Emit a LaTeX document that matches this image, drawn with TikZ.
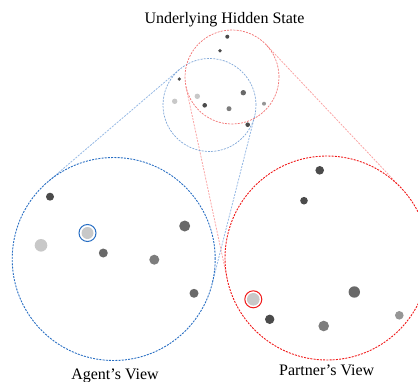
\documentclass[tikz,border=0pt]{standalone}
\usepackage{fontspec}
\setmainfont{Liberation Serif}
\definecolor{bluebig}{RGB}{40,110,195}
\definecolor{bluesmall}{RGB}{125,165,215}
\definecolor{bluetan}{RGB}{150,185,228}
\definecolor{redbig}{RGB}{240,25,25}
\definecolor{redsmall}{RGB}{242,115,115}
\definecolor{redtan}{RGB}{250,165,165}
\definecolor{gA}{RGB}{75,75,75}
\definecolor{gB}{RGB}{105,105,105}
\definecolor{gC}{RGB}{125,125,125}
\definecolor{gD}{RGB}{150,150,150}
\definecolor{gE}{RGB}{200,200,200}
\tikzset{
  view/.style={circle, draw, inner sep=0pt, dash pattern=on 2pt off 1.2pt, line width=0.9pt},
  tanline/.style={dash pattern=on 2pt off 1.2pt, line width=0.8pt},
  dot/.style={circle, fill=#1, inner sep=0pt},
  ring/.style={circle, draw=#1, line width=1pt, inner sep=0pt, minimum size=17pt},
  lbl/.style={font=\fontsize{16}{19}\selectfont, inner sep=0pt, anchor=base}
}
\begin{document}
\begin{tikzpicture}[x=1pt,y=-1pt]
\useasboundingbox (0,0) rectangle (418,381);
% tangent points
\coordinate (bt1) at (179.3,69.6);
\coordinate (bB1) at (47.8,181.8);
\coordinate (bt2) at (254.6,116.4);
\coordinate (bB2) at (212.1,284.0);
\coordinate (rt1) at (186.0,86.8);
\coordinate (rB1) at (227.3,279.3);
\coordinate (rt2) at (266.2,44.8);
\coordinate (rB2) at (401.2,188.0);
\draw[tanline, bluetan] (bt1) -- (bB1);
\draw[tanline, bluetan] (bt2) -- (bB2);
\draw[tanline, redtan] (rt1) -- (rB1);
\draw[tanline, redtan] (rt2) -- (rB2);
% circles
\node[view, draw=bluesmall, line width=0.7pt, minimum size=93pt] (hb) at (209.5,105) {};
\node[view, draw=redsmall, line width=0.7pt, minimum size=94pt] (hr) at (232,77) {};
\node[view, draw=bluebig, minimum size=203pt] (agent) at (113.7,259) {};
\node[view, draw=redbig, minimum size=204pt] (partner) at (327,258) {};
% labels
\node[lbl] (title) at (224.5,23.3) {Underlying Hidden State};
\node[lbl] (al) at (115,379) {Agent’s View};
\node[lbl] (pl) at (326.7,375.5) {Partner’s View};
% hidden state dots
\node[dot=gA, minimum size=4pt] (h1) at (227.3,36.7) {};
\node[dot=gA, minimum size=3.6pt] (h2) at (220,50.7) {};
\node[dot=gA, minimum size=3.6pt] (h3) at (179.3,79) {};
\node[dot=gB, minimum size=5.4pt] (h4) at (243.3,92.7) {};
\node[dot=gE, minimum size=5.4pt] (h5) at (197.3,96.3) {};
\node[dot=gE, minimum size=5.4pt] (h6) at (174.7,101.3) {};
\node[dot=gA, minimum size=4.6pt] (h7) at (204.7,105.3) {};
\node[dot=gC, minimum size=5pt] (h8) at (229,108.7) {};
\node[dot=gD, minimum size=4pt] (h9) at (264,103.7) {};
\node[dot=gA, minimum size=4.6pt] (h10) at (247.7,124.7) {};
% agent dots
\node[dot=gA, minimum size=8pt] (a1) at (50,196.7) {};
\node[dot=gE, minimum size=12pt] (a2) at (87.5,233) {};
\node[ring=bluebig] (a2r) at (a2) {};
\node[dot=gE, minimum size=12.6pt] (a3) at (41,245.3) {};
\node[dot=gB, minimum size=9pt] (a4) at (103.3,253) {};
\node[dot=gB, minimum size=11pt] (a5) at (184.7,226) {};
\node[dot=gC, minimum size=10pt] (a6) at (154.3,259.7) {};
\node[dot=gB, minimum size=9pt] (a7) at (194,293.3) {};
% partner dots
\node[dot=gA, minimum size=8.6pt] (p1) at (319.7,170.3) {};
\node[dot=gA, minimum size=7.6pt] (p2) at (304,200.7) {};
\node[dot=gE, minimum size=12.6pt] (p3) at (253.3,299.3) {};
\node[ring=redbig] (p3r) at (p3) {};
\node[dot=gA, minimum size=9.4pt] (p4) at (269.7,319.3) {};
\node[dot=gB, minimum size=11.4pt] (p5) at (354.3,292) {};
\node[dot=gC, minimum size=10.6pt] (p6) at (323.7,326) {};
\node[dot=gD, minimum size=8.6pt] (p7) at (399.3,315.3) {};
\end{tikzpicture}
\end{document}
